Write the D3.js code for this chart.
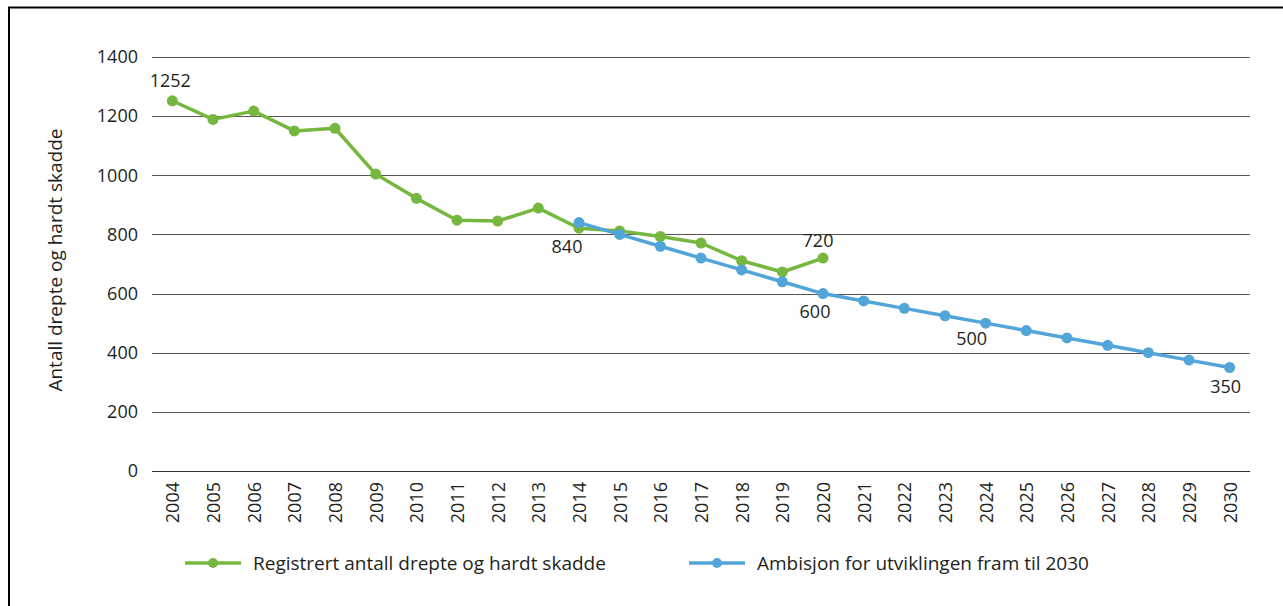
<!DOCTYPE html>
<html><head><meta charset="utf-8">
<script src="https://cdn.jsdelivr.net/npm/d3@7"></script>
<style>
html,body{margin:0;padding:0;background:#fff;}
svg{display:block;font-family:"Open Sans","Noto Sans",sans-serif;}
</style></head>
<body>
<svg id="c" width="1283" height="606"></svg>
<script>
const years = ["2004","2005","2006","2007","2008","2009","2010","2011","2012","2013","2014","2015","2016","2017","2018","2019","2020","2021","2022","2023","2024","2025","2026","2027","2028","2029","2030"];
const registeredYears = ["2004","2005","2006","2007","2008","2009","2010","2011","2012","2013","2014","2015","2016","2017","2018","2019","2020"];
const registeredValues = [1252,1189,1217,1150,1159,1004,922,848,845,889,821,812,793,771,711,673,720];
const ambitionYears = ["2014","2015","2016","2017","2018","2019","2020","2021","2022","2023","2024","2025","2026","2027","2028","2029","2030"];
const ambitionValues = [840,800,760,720,680,640,600,575,550,525,500,475,450,425,400,375,350];
const yTicks = [0,200,400,600,800,1000,1200,1400];
const seriesNames = ["Registrert antall drepte og hardt skadde","Ambisjon for utviklingen fram til 2030"];
const labels = [
  {series:0, year:"2004", text:"1252", dx:-2, dy:-14},
  {series:0, year:"2014", text:"840", dx:-12, dy:25},
  {series:0, year:"2020", text:"720", dx:-5, dy:-11},
  {series:1, year:"2020", text:"600", dx:-8, dy:24},
  {series:1, year:"2024", text:"500", dx:-14, dy:22},
  {series:1, year:"2030", text:"350", dx:-4, dy:25}
];

const svg = d3.select("#c");
const green = "#76b73f", blue = "#52a5d9";
const x = d3.scaleBand().domain(years).range([152,1250]);
const y = d3.scaleLinear().domain([0,1400]).range([471,57]);
const cx = d => x(d) + x.bandwidth()/2;

// border
svg.append("path").attr("d","M9,606 V7.5 H1283").attr("fill","none").attr("stroke","#000").attr("stroke-width",2);

// gridlines
svg.append("g").selectAll("line").data(yTicks).join("line")
  .attr("x1",152).attr("x2",1250)
  .attr("y1",d=>Math.round(y(d))+0.5).attr("y2",d=>Math.round(y(d))+0.5)
  .attr("stroke",d=>d===0?"#333":"#555").attr("stroke-width",1);

// y tick labels
svg.append("g").selectAll("text").data(yTicks).join("text")
  .attr("x",138).attr("y",d=>y(d)).attr("dy","0.35em")
  .attr("text-anchor","end").attr("font-size",18).attr("fill","#231f20").text(d=>d);

// x tick labels
svg.append("g").selectAll("text").data(years).join("text")
  .attr("transform",d=>`translate(${cx(d)+7},482) rotate(-90)`)
  .attr("text-anchor","end").attr("font-size",18).attr("fill","#231f20").text(d=>d);

// y axis title
svg.append("text").attr("transform","translate(62,260) rotate(-90)")
  .attr("text-anchor","middle").attr("font-size",19).attr("fill","#231f20")
  .text("Antall drepte og hardt skadde");

const line = d3.line().x(d=>cx(d[0])).y(d=>y(d[1]));
const reg = registeredYears.map((d,i)=>[d,registeredValues[i]]);
const amb = ambitionYears.map((d,i)=>[d,ambitionValues[i]]);

function drawSeries(data,color){
  svg.append("path").datum(data).attr("d",line).attr("fill","none")
    .attr("stroke",color).attr("stroke-width",3.5).attr("stroke-linejoin","round");
  svg.append("g").selectAll("circle").data(data).join("circle")
    .attr("cx",d=>cx(d[0])).attr("cy",d=>y(d[1])).attr("r",5.5).attr("fill",color);
}
drawSeries(reg,green);
drawSeries(amb,blue);

// data labels
const all = [reg,amb];
svg.append("g").selectAll("text").data(labels).join("text")
  .attr("x",d=>cx(d.year)+d.dx)
  .attr("y",d=>y(all[d.series].find(p=>p[0]===d.year)[1])+d.dy)
  .attr("text-anchor","middle").attr("font-size",18).attr("fill","#231f20").text(d=>d.text);

// legend
const leg = [{x:185,color:green,name:seriesNames[0]},{x:689,color:blue,name:seriesNames[1]}];
const lg = svg.append("g").selectAll("g").data(leg).join("g");
lg.append("line").attr("x1",d=>d.x).attr("x2",d=>d.x+56).attr("y1",563).attr("y2",563)
  .attr("stroke",d=>d.color).attr("stroke-width",3.5);
lg.append("circle").attr("cx",d=>d.x+28).attr("cy",563).attr("r",5).attr("fill",d=>d.color);
lg.append("text").attr("x",d=>d.x+68).attr("y",563).attr("dy","0.35em")
  .attr("font-size",19).attr("fill","#231f20").text(d=>d.name);
</script>
</body></html>
